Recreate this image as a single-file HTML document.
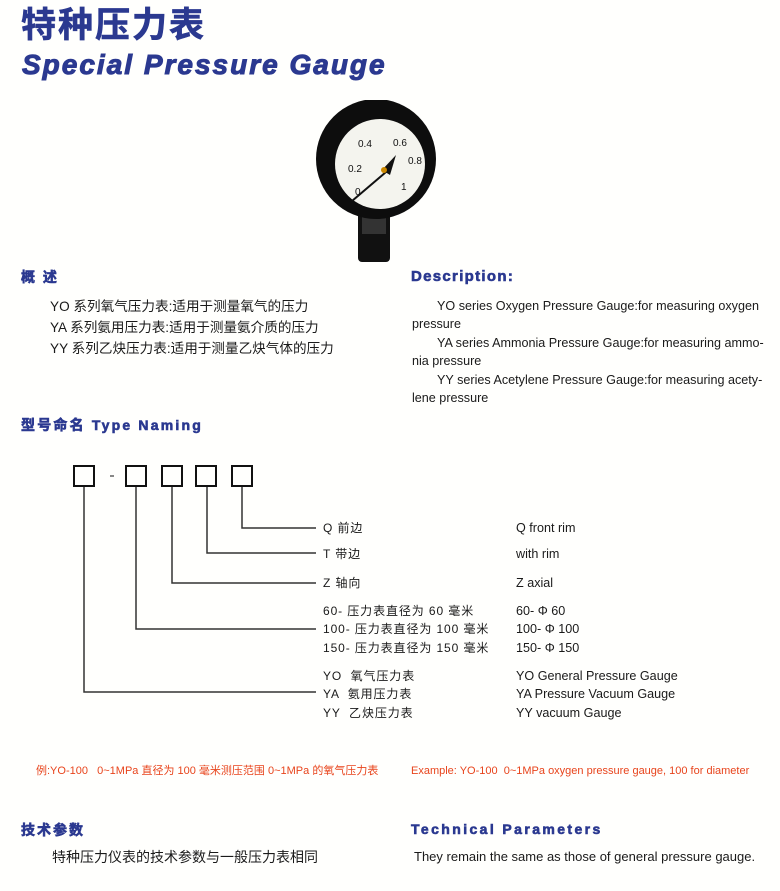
<!DOCTYPE html>
<html><head><meta charset="utf-8"><style>
body{margin:0;width:780px;height:891px;background:#fffffd;position:relative;overflow:hidden;font-family:"Liberation Sans","Noto Sans CJK SC",sans-serif;color:#1a1a1a}
div.t{position:absolute;white-space:nowrap;line-height:1}
.h{color:#2b3990;font-weight:bold;-webkit-text-stroke:0.6px #2b3990}
.s{font-size:13.6px}
.r{font-size:12.6px}
.d{font-size:12px;letter-spacing:0.9px}
.red{color:#e8441c;font-size:11px}
</style></head><body>
<div class="t h" style="left:21px;top:8px;font-size:35px;letter-spacing:2px">特种压力表</div>
<div class="t h" style="left:22px;top:51px;font-size:28px;font-style:italic;letter-spacing:2px;-webkit-text-stroke:1px #2b3990">Special Pressure Gauge</div>

<svg style="position:absolute;left:300px;top:100px" width="150" height="170">
<rect x="58" y="112" width="32" height="50" rx="4" fill="#111"/>
<rect x="62" y="112" width="24" height="22" fill="#333"/>
<circle cx="76" cy="59" r="60" fill="#0d0d0d"/>
<circle cx="80" cy="64" r="45" fill="#f4f4ee"/>
<g font-family="Liberation Sans" font-size="10" fill="#111">
<text x="58" y="47">0.4</text><text x="93" y="46">0.6</text><text x="48" y="72">0.2</text><text x="108" y="64">0.8</text><text x="55" y="95">0</text><text x="101" y="90">1</text></g>
<line x1="52" y1="101" x2="86" y2="72" stroke="#111" stroke-width="2"/>
<polygon points="82,70 96,55 90,75" fill="#111"/>
<circle cx="84" cy="70" r="3" fill="#c80"/>
</svg>

<div class="t h" style="left:21px;top:270px;font-size:14px;letter-spacing:2px">概 述</div>
<div class="t s" style="left:50px;top:300px">YO 系列氧气压力表:适用于测量氧气的压力</div>
<div class="t s" style="left:50px;top:321px">YA 系列氨用压力表:适用于测量氨介质的压力</div>
<div class="t s" style="left:50px;top:342px">YY 系列乙炔压力表:适用于测量乙炔气体的压力</div>

<div class="t h" style="left:411px;top:269px;font-size:15px;letter-spacing:1.3px">Description:</div>
<div class="t r" style="left:437px;top:300px">YO series Oxygen Pressure Gauge:for measuring oxygen</div>
<div class="t r" style="left:412px;top:318px">pressure</div>
<div class="t r" style="left:437px;top:337px">YA series Ammonia Pressure Gauge:for measuring ammo-</div>
<div class="t r" style="left:412px;top:355px">nia pressure</div>
<div class="t r" style="left:437px;top:374px">YY series Acetylene Pressure Gauge:for measuring acety-</div>
<div class="t r" style="left:412px;top:392px">lene pressure</div>

<div class="t h" style="left:21px;top:418px;font-size:14px;letter-spacing:2.2px">型号命名 Type Naming</div>

<svg style="position:absolute;left:0;top:0" width="780" height="891">
<g fill="none" stroke="#111" stroke-width="2">
<rect x="74" y="466" width="20" height="20"/><rect x="126" y="466" width="20" height="20"/><rect x="162" y="466" width="20" height="20"/><rect x="196" y="466" width="20" height="20"/><rect x="232" y="466" width="20" height="20"/>
</g>
<line x1="110" y1="476" x2="114" y2="476" stroke="#111"/>
<g fill="none" stroke="#333" stroke-width="1.5">
<polyline points="242,487 242,528 316,528"/>
<polyline points="207,487 207,553 316,553"/>
<polyline points="172,487 172,583 316,583"/>
<polyline points="136,487 136,629 316,629"/>
<polyline points="84,487 84,692 316,692"/>
</g>
</svg>
<div class="t d" style="left:323px;top:522px">Q 前边</div>
<div class="t d" style="left:323px;top:548px">T 带边</div>
<div class="t d" style="left:323px;top:577px">Z 轴向</div>
<div class="t d" style="left:323px;top:605px">60- 压力表直径为 60 毫米</div>
<div class="t d" style="left:323px;top:623px">100- 压力表直径为 100 毫米</div>
<div class="t d" style="left:323px;top:642px">150- 压力表直径为 150 毫米</div>
<div class="t d" style="left:323px;top:670px">YO &nbsp;氧气压力表</div>
<div class="t d" style="left:323px;top:688px">YA &nbsp;氨用压力表</div>
<div class="t d" style="left:323px;top:707px">YY &nbsp;乙炔压力表</div>
<div class="t r" style="left:516px;top:522px">Q front rim</div>
<div class="t r" style="left:516px;top:548px">with rim</div>
<div class="t r" style="left:516px;top:577px">Z axial</div>
<div class="t r" style="left:516px;top:605px">60- Φ 60</div>
<div class="t r" style="left:516px;top:623px">100- Φ 100</div>
<div class="t r" style="left:516px;top:642px">150- Φ 150</div>
<div class="t r" style="left:516px;top:670px">YO General Pressure Gauge</div>
<div class="t r" style="left:516px;top:688px">YA Pressure Vacuum Gauge</div>
<div class="t r" style="left:516px;top:707px">YY vacuum Gauge</div>

<div class="t red" style="left:36px;top:766px">例:YO-100 &nbsp;&nbsp;0~1MPa 直径为 100 毫米测压范围 0~1MPa 的氧气压力表</div>
<div class="t red" style="left:411px;top:766px">Example: YO-100 &nbsp;0~1MPa oxygen pressure gauge, 100 for diameter</div>

<div class="t h" style="left:21px;top:823px;font-size:14px;letter-spacing:2px">技术参数</div>
<div class="t h" style="left:411px;top:822px;font-size:14px;letter-spacing:2.4px">Technical Parameters</div>
<div class="t" style="left:52px;top:850px;font-size:14px">特种压力仪表的技术参数与一般压力表相同</div>
<div class="t" style="left:414px;top:850px;font-size:13px">They remain the same as those of general pressure gauge.</div>
</body></html>
